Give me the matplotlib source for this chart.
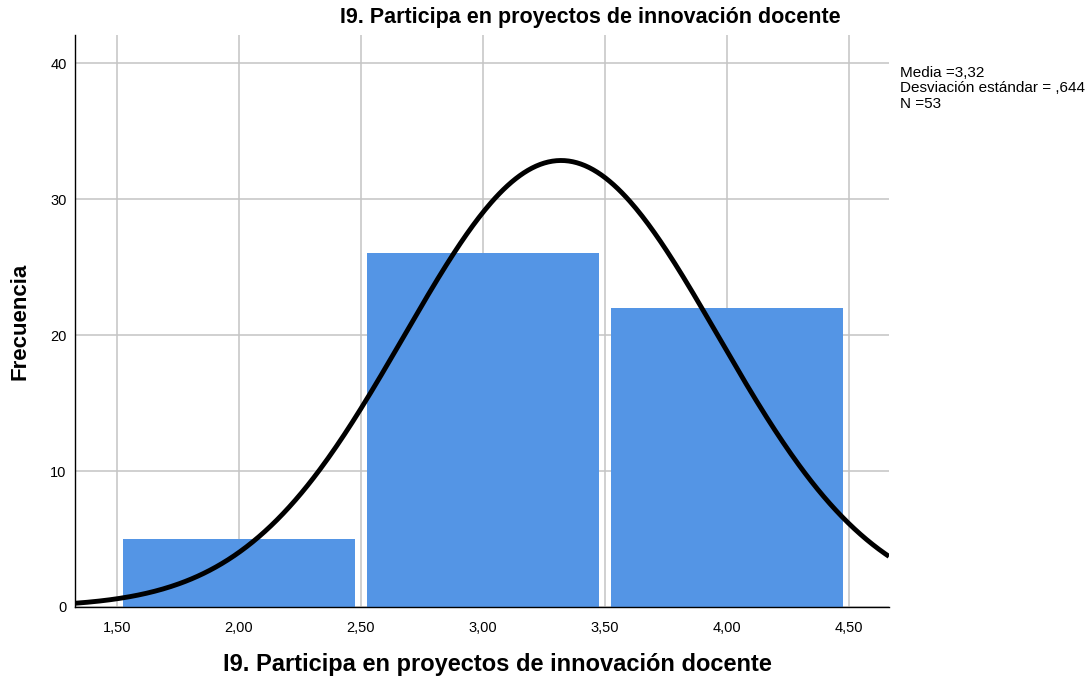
import numpy as np
import matplotlib.pyplot as plt

plt.rcParams['font.family'] = ['Liberation Sans', 'DejaVu Sans']

# Datos del histograma
bin_left = [1.5, 2.5, 3.5]
bin_width = 1.0
counts = [5, 26, 22]
media = 3.32
desv = 0.644
n = 53

xticks = [1.5, 2.0, 2.5, 3.0, 3.5, 4.0, 4.5]
xtick_labels = ['1,50', '2,00', '2,50', '3,00', '3,50', '4,00', '4,50']
yticks = [0, 10, 20, 30, 40]

titulo = 'I9. Participa en proyectos de innovación docente'

fig = plt.figure(figsize=(10.92, 6.82), dpi=100)
ax = fig.add_axes([75 / 1092, 1 - 607 / 682, (889 - 75) / 1092, (607 - 35) / 682])

centros = [b + bin_width / 2 for b in bin_left]
ax.bar(centros, counts, width=bin_width * 0.95, color='#5495e5', zorder=2)

# curva normal
xs = np.linspace(1.328, 4.664, 400)
ys = n * bin_width / (desv * np.sqrt(2 * np.pi)) * np.exp(-0.5 * ((xs - media) / desv) ** 2)
ax.plot(xs, ys, color='black', lw=3.5, zorder=3, solid_capstyle='butt')

ax.set_xlim(1.328, 4.664)
ax.set_ylim(0, 42.06)
ax.set_xticks(xticks)
ax.set_xticklabels(xtick_labels)
ax.set_yticks(yticks)
ax.tick_params(axis='x', length=0, labelsize=10.5, pad=10)
ax.tick_params(axis='y', length=0, labelsize=10.5, pad=6)
ax.grid(True, color='#c4c4c4', lw=1.1, zorder=0)
ax.set_axisbelow(True)
for s in ['top', 'right']:
    ax.spines[s].set_visible(False)
ax.spines['left'].set_color('black')
ax.spines['bottom'].set_color('black')
ax.spines['left'].set_linewidth(1)
ax.spines['bottom'].set_linewidth(1)

fig.text(590 / 1092, 1 - 17 / 682, titulo, ha='center', va='center', fontsize=15.5, fontweight='bold')
fig.text(497 / 1092, 1 - 664 / 682, titulo, ha='center', va='center', fontsize=17, fontweight='bold')
fig.text(20 / 1092, 1 - 321 / 682, 'Frecuencia', ha='center', va='center', rotation=90,
         fontsize=16, fontweight='bold')

stats = 'Media =3,32\nDesviación estándar = ,644\nN =53'
fig.text(900 / 1092, 1 - 66 / 682, stats, ha='left', va='top', fontsize=11, linespacing=1.12)

fig.savefig('out.png', dpi=100)
